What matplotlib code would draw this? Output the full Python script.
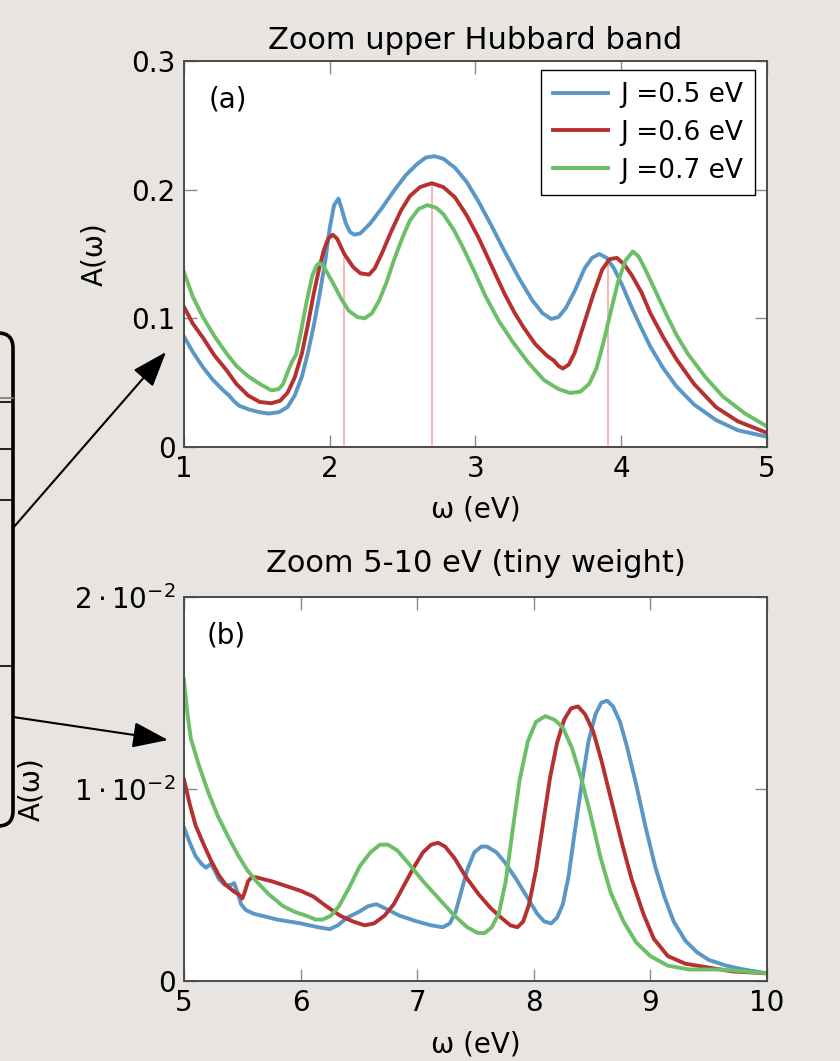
import matplotlib
matplotlib.use("Agg")
import matplotlib.pyplot as plt
from matplotlib.patches import FancyBboxPatch, FancyArrowPatch
from matplotlib.lines import Line2D

plt.rcParams['font.family'] = ['DejaVu Sans']
plt.rcParams['mathtext.fontset'] = 'dejavusans'

# series labels and colours
labels = ['J =0.5 eV', 'J =0.6 eV', 'J =0.7 eV']
colors = ['#5a97c6', '#b5302f', '#6cbf66']

# (a) upper Hubbard band, 1-5 eV
w_a_05 = [1.00, 1.06, 1.13, 1.20, 1.27, 1.31, 1.34, 1.38, 1.45, 1.52, 1.58, 1.65, 1.71, 1.76, 1.81,
          1.85, 1.89, 1.93, 1.97, 2.00, 2.03, 2.06, 2.08, 2.11, 2.14, 2.17, 2.21, 2.28, 2.36, 2.44,
          2.52, 2.60, 2.66, 2.72, 2.78, 2.86, 2.94, 3.02, 3.11, 3.20, 3.30, 3.39, 3.46, 3.52, 3.57,
          3.62, 3.68, 3.75, 3.80, 3.85, 3.90, 3.95, 4.01, 4.07, 4.14, 4.20, 4.29, 4.38, 4.50, 4.65,
          4.80, 5.00]
A_a_05 = [0.086, 0.074, 0.062, 0.052, 0.044, 0.040, 0.036, 0.032, 0.029, 0.027, 0.026, 0.027, 0.031,
          0.040, 0.055, 0.073, 0.094, 0.118, 0.145, 0.170, 0.188, 0.193, 0.186, 0.174, 0.167, 0.165,
          0.166, 0.174, 0.186, 0.199, 0.211, 0.220, 0.225, 0.226, 0.224, 0.217, 0.206, 0.191, 0.172,
          0.152, 0.131, 0.114, 0.104, 0.0995, 0.101, 0.108, 0.121, 0.139, 0.147, 0.150, 0.147, 0.139,
          0.125, 0.109, 0.092, 0.078, 0.061, 0.047, 0.033, 0.021, 0.013, 0.008]

w_a_06 = [1.00, 1.06, 1.13, 1.21, 1.29, 1.36, 1.44, 1.52, 1.60, 1.66, 1.71, 1.76, 1.81, 1.85, 1.89,
          1.93, 1.96, 1.99, 2.02, 2.05, 2.10, 2.16, 2.21, 2.27, 2.31, 2.36, 2.42, 2.49, 2.55, 2.62,
          2.70, 2.78, 2.86, 2.94, 3.02, 3.11, 3.20, 3.27, 3.33, 3.41, 3.49, 3.54, 3.57, 3.60, 3.64,
          3.68, 3.74, 3.81, 3.87, 3.92, 3.97, 4.02, 4.07, 4.14, 4.20, 4.29, 4.38, 4.50, 4.65, 4.80,
          5.00]
A_a_06 = [0.109, 0.096, 0.085, 0.071, 0.060, 0.049, 0.040, 0.035, 0.034, 0.036, 0.042, 0.054, 0.073,
          0.095, 0.119, 0.140, 0.153, 0.162, 0.165, 0.162, 0.150, 0.140, 0.135, 0.134, 0.139, 0.151,
          0.167, 0.184, 0.195, 0.202, 0.205, 0.202, 0.194, 0.180, 0.163, 0.141, 0.119, 0.104, 0.093,
          0.080, 0.071, 0.067, 0.063, 0.061, 0.064, 0.073, 0.094, 0.119, 0.138, 0.146, 0.147, 0.142,
          0.134, 0.120, 0.104, 0.085, 0.068, 0.049, 0.031, 0.020, 0.011]

w_a_07 = [1.00, 1.06, 1.13, 1.21, 1.29, 1.36, 1.44, 1.52, 1.60, 1.65, 1.68, 1.71, 1.74, 1.77, 1.80,
          1.84, 1.88, 1.91, 1.93, 1.96, 2.02, 2.08, 2.13, 2.19, 2.24, 2.29, 2.34, 2.39, 2.44, 2.50,
          2.55, 2.61, 2.67, 2.73, 2.78, 2.85, 2.91, 2.99, 3.07, 3.16, 3.26, 3.36, 3.47, 3.57, 3.65,
          3.72, 3.78, 3.83, 3.88, 3.93, 3.98, 4.03, 4.08, 4.12, 4.17, 4.24, 4.31, 4.38, 4.46, 4.58,
          4.70, 4.85, 5.00]
A_a_07 = [0.136, 0.117, 0.101, 0.086, 0.073, 0.063, 0.055, 0.049, 0.044, 0.045, 0.049, 0.058, 0.066,
          0.072, 0.088, 0.112, 0.133, 0.141, 0.143, 0.140, 0.128, 0.115, 0.106, 0.101, 0.100, 0.104,
          0.114, 0.128, 0.145, 0.163, 0.176, 0.185, 0.188, 0.186, 0.181, 0.169, 0.156, 0.137, 0.117,
          0.098, 0.081, 0.066, 0.052, 0.045, 0.042, 0.043, 0.049, 0.061, 0.082, 0.106, 0.129, 0.145,
          0.152, 0.148, 0.137, 0.120, 0.103, 0.087, 0.072, 0.054, 0.039, 0.026, 0.016]

# marked peak positions (drawn up to the J=0.6 curve)
peak_w = [2.10, 2.70, 3.91]
peak_A = [0.147, 0.205, 0.142]

# (b) 5-10 eV
w_b_05 = [5.00, 5.05, 5.10, 5.15, 5.19, 5.23, 5.26, 5.30, 5.35, 5.40, 5.43, 5.46, 5.49, 5.53, 5.60,
          5.80, 6.00, 6.15, 6.25, 6.32, 6.40, 6.50, 6.58, 6.65, 6.72, 6.85, 7.00, 7.12, 7.22, 7.28,
          7.33, 7.38, 7.43, 7.49, 7.55, 7.60, 7.68, 7.75, 7.85, 7.95, 8.03, 8.09, 8.15, 8.20, 8.25,
          8.30, 8.35, 8.41, 8.47, 8.53, 8.58, 8.63, 8.68, 8.74, 8.80, 8.88, 8.96, 9.04, 9.12, 9.20,
          9.30, 9.40, 9.50, 9.65, 9.80, 10.0]
A_b_05 = [0.0080, 0.0072, 0.0065, 0.0061, 0.0059, 0.0061, 0.0058, 0.0053, 0.0050, 0.0050, 0.0051,
          0.0046, 0.0040, 0.0037, 0.0035, 0.0032, 0.0030, 0.0028, 0.0027, 0.0029, 0.0033, 0.0036,
          0.0039, 0.0040, 0.0038, 0.0034, 0.0031, 0.0029, 0.0028, 0.0030, 0.0036, 0.0047, 0.0058,
          0.0067, 0.0070, 0.0070, 0.0067, 0.0062, 0.0053, 0.0043, 0.0035, 0.0031, 0.0030, 0.0033,
          0.0040, 0.0055, 0.0077, 0.0102, 0.0125, 0.0139, 0.0145, 0.0146, 0.0143, 0.0135, 0.0122,
          0.0102, 0.0080, 0.0060, 0.0044, 0.0031, 0.0021, 0.0015, 0.0011, 0.0008, 0.0006, 0.0004]

w_b_06 = [5.00, 5.05, 5.10, 5.17, 5.23, 5.30, 5.36, 5.42, 5.47, 5.50, 5.52, 5.55, 5.58, 5.62, 5.75,
          5.90, 6.00, 6.11, 6.22, 6.34, 6.45, 6.55, 6.63, 6.72, 6.80, 6.88, 6.96, 7.05, 7.12, 7.18,
          7.24, 7.32, 7.42, 7.53, 7.63, 7.72, 7.80, 7.86, 7.91, 7.96, 8.02, 8.08, 8.14, 8.20, 8.26,
          8.32, 8.38, 8.44, 8.51, 8.58, 8.67, 8.76, 8.84, 8.94, 9.03, 9.15, 9.30, 9.50, 9.70, 10.0]
A_b_06 = [0.0105, 0.0092, 0.0081, 0.0071, 0.0063, 0.0055, 0.0050, 0.0047, 0.0045, 0.0043, 0.0046,
          0.0052, 0.0054, 0.0054, 0.0052, 0.0049, 0.0047, 0.0044, 0.0039, 0.0034, 0.0031, 0.0029,
          0.0030, 0.0034, 0.0040, 0.0049, 0.0058, 0.0067, 0.0071, 0.0072, 0.0070, 0.0064, 0.0054,
          0.0045, 0.0038, 0.0033, 0.0029, 0.0028, 0.0031, 0.0040, 0.0058, 0.0082, 0.0106, 0.0124,
          0.0136, 0.0142, 0.0143, 0.0139, 0.0130, 0.0115, 0.0093, 0.0071, 0.0053, 0.0035, 0.0022,
          0.0013, 0.0009, 0.0007, 0.0005, 0.0004]

w_b_07 = [5.00, 5.03, 5.06, 5.13, 5.21, 5.29, 5.38, 5.46, 5.54, 5.62, 5.73, 5.85, 5.95, 6.05, 6.13,
          6.19, 6.26, 6.33, 6.42, 6.51, 6.60, 6.68, 6.75, 6.83, 6.93, 7.05, 7.20, 7.32, 7.43, 7.52,
          7.58, 7.64, 7.70, 7.76, 7.82, 7.88, 7.95, 8.02, 8.10, 8.18, 8.25, 8.33, 8.41, 8.49, 8.57,
          8.66, 8.77, 8.88, 9.00, 9.15, 9.33, 9.60, 9.80, 10.0]
A_b_07 = [0.0157, 0.0139, 0.0126, 0.0112, 0.0098, 0.0086, 0.0075, 0.0066, 0.0058, 0.0052, 0.0045,
          0.0039, 0.0036, 0.0034, 0.0032, 0.0032, 0.0034, 0.0039, 0.0049, 0.0060, 0.0067, 0.0071,
          0.0071, 0.0068, 0.0061, 0.0052, 0.0042, 0.0034, 0.0028, 0.0025, 0.0025, 0.0028, 0.0035,
          0.0052, 0.0079, 0.0105, 0.0125, 0.0135, 0.0138, 0.0136, 0.0132, 0.0121, 0.0105, 0.0086,
          0.0065, 0.0046, 0.0031, 0.0020, 0.0013, 0.0008, 0.0006, 0.0006, 0.0005, 0.0004]

xticks_a = [1, 2, 3, 4, 5]
yticks_a = [0, 0.1, 0.2, 0.3]
yticklabels_a = ['0', '0.1', '0.2', '0.3']
xticks_b = [5, 6, 7, 8, 9, 10]
yticks_b = [0, 0.01, 0.02]
yticklabels_b = ['0', r'$1\cdot10^{-2}$', r'$2\cdot10^{-2}$']

bg = '#e7e4e1'
fig = plt.figure(figsize=(8.4, 10.61), dpi=100, facecolor=bg)
ax1 = fig.add_axes([0.219, 0.5787, 0.694, 0.3638])
ax2 = fig.add_axes([0.219, 0.0754, 0.694, 0.3619])


def style(ax):
    ax.set_facecolor('white')
    ax.tick_params(direction='in', length=9, width=1, color='#8a8a8a', top=True, right=True,
                   labelsize=20, pad=6)
    for s in ax.spines.values():
        s.set_color('#4a4a4a')
        s.set_linewidth(1.4)


# panel (a)
ax1.vlines(peak_w, 0, peak_A, colors='#f6b2b2', lw=1.3, zorder=1)
ax1.plot(w_a_05, A_a_05, color=colors[0], lw=2.8, label=labels[0])
ax1.plot(w_a_06, A_a_06, color=colors[1], lw=2.8, label=labels[1])
ax1.plot(w_a_07, A_a_07, color=colors[2], lw=2.8, label=labels[2])
ax1.set_xlim(1, 5)
ax1.set_ylim(0, 0.3)
ax1.set_xticks(xticks_a)
ax1.set_yticks(yticks_a)
ax1.set_yticklabels(yticklabels_a)
style(ax1)
ax1.set_title('Zoom upper Hubbard band', fontsize=22, pad=9)
ax1.set_xlabel('ω (eV)', fontsize=20)
ax1.set_ylabel('A(ω)', fontsize=20)
ax1.xaxis.set_label_coords(0.5, -0.125)
ax1.yaxis.set_label_coords(-0.130, 0.5)
ax1.text(0.076, 0.90, '(a)', transform=ax1.transAxes, fontsize=20, ha='center', va='center')
leg = ax1.legend(loc='upper right', bbox_to_anchor=(0.979, 0.977), borderaxespad=0,
                 fontsize=19, fancybox=False, framealpha=1, edgecolor='black',
                 handlelength=2.1, handletextpad=0.45, labelspacing=0.45, borderpad=0.45)
leg.get_frame().set_linewidth(1.0)

# panel (b)
ax2.plot(w_b_05, A_b_05, color=colors[0], lw=2.8)
ax2.plot(w_b_06, A_b_06, color=colors[1], lw=2.8)
ax2.plot(w_b_07, A_b_07, color=colors[2], lw=2.8)
ax2.set_xlim(5, 10)
ax2.set_ylim(0, 0.02)
ax2.set_xticks(xticks_b)
ax2.set_yticks(yticks_b)
ax2.set_yticklabels(yticklabels_b)
style(ax2)
ax2.set_title('Zoom 5-10 eV (tiny weight)', fontsize=22, pad=18)
ax2.set_xlabel('ω (eV)', fontsize=20)
ax2.set_ylabel('A(ω)', fontsize=20)
ax2.xaxis.set_label_coords(0.5, -0.128)
ax2.yaxis.set_label_coords(-0.238, 0.5)
ax2.text(0.072, 0.90, '(b)', transform=ax2.transAxes, fontsize=20, ha='center', va='center')

# cut-off main plot on the left with zoom arrows (pixel positions -> inches)
H = 10.61
def pin(x, y):
    return (x / 100.0, H - y / 100.0)

box_x, box_y = pin(-80, 826)
fig.add_artist(FancyBboxPatch((box_x, box_y), 0.93, 4.93,
                              boxstyle='round,pad=0,rounding_size=0.15',
                              transform=fig.dpi_scale_trans, fill=False, ec='black', lw=2.6,
                              clip_on=False))
for yy, cc in [(398, '#777777'), (402, 'black'), (449, 'black'), (500, 'black'), (666, 'black')]:
    (x0, y0), (x1, y1) = pin(0, yy), pin(13, yy)
    fig.add_artist(Line2D([x0, x1], [y0, y1], transform=fig.dpi_scale_trans, color=cc, lw=1.2))

for start, end in [((13, 528), (166, 352)), ((13, 717), (168, 740))]:
    fig.add_artist(FancyArrowPatch(pin(*start), pin(*end), transform=fig.dpi_scale_trans,
                                   arrowstyle='-|>,head_length=1.1,head_width=0.4',
                                   mutation_scale=20, color='black', lw=1.5,
                                   shrinkA=0, shrinkB=0))

fig.savefig('out.png', dpi=100, facecolor=bg)
